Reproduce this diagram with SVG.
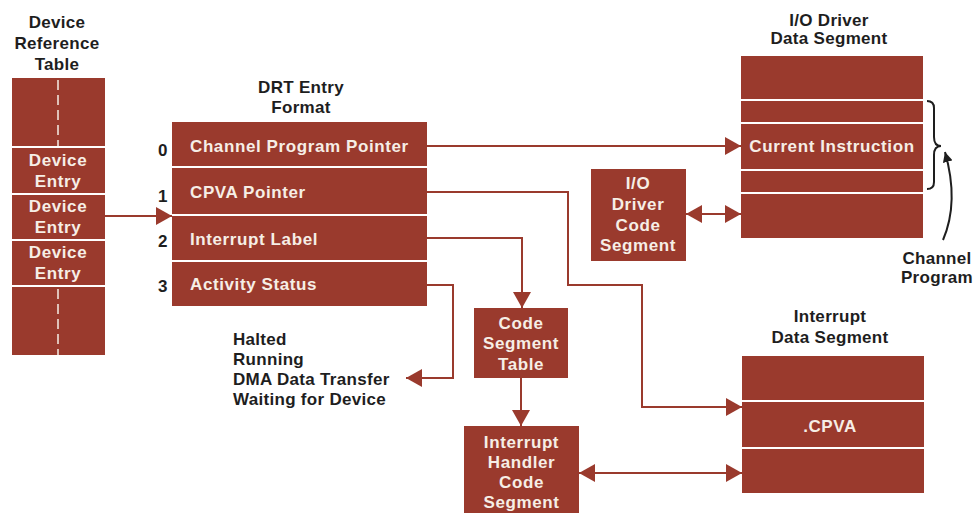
<svg xmlns="http://www.w3.org/2000/svg" width="975" height="513" viewBox="0 0 975 513">
<style>
.box{fill:#9a3a2d}
.wt{fill:#f6eee6;font-family:"Liberation Sans",Arial,sans-serif;font-weight:bold;font-size:17px;letter-spacing:0.6px}
.bt{fill:#1e1e1e;font-family:"Liberation Sans",Arial,sans-serif;font-weight:bold;font-size:17px;letter-spacing:0.3px}
.c{text-anchor:middle}
.ln{fill:none;stroke:#9a3a2d;stroke-width:2}
.dash{stroke:#f6eee6;stroke-width:1.5;stroke-dasharray:10 5}
</style>
<defs>
<marker id="ah" markerUnits="userSpaceOnUse" markerWidth="16" markerHeight="18" refX="16" refY="9" orient="auto-start-reverse">
<path d="M0,0 L16,9 L0,18 z" fill="#9a3a2d"/>
</marker>
<marker id="ahd" markerUnits="userSpaceOnUse" markerWidth="10" markerHeight="10" refX="10" refY="5" orient="auto">
<path d="M0,0 L10,5 L0,10 z" fill="#1e1e1e"/>
</marker>
</defs>
<rect width="975" height="513" fill="#ffffff"/>

<g id="device-reference-table">
<text class="bt c" x="57" y="28">Device</text>
<text class="bt c" x="57" y="49">Reference</text>
<text class="bt c" x="57" y="70">Table</text>
<rect class="box" x="12" y="78" width="93" height="68"/>
<line class="dash" x1="58" y1="80" x2="58" y2="146"/>
<rect class="box" x="12" y="148" width="93" height="45"/>
<text class="wt c" x="58" y="166">Device</text>
<text class="wt c" x="58" y="187">Entry</text>
<rect class="box" x="12" y="195" width="93" height="44"/>
<text class="wt c" x="58" y="212">Device</text>
<text class="wt c" x="58" y="233">Entry</text>
<rect class="box" x="12" y="241" width="93" height="44"/>
<text class="wt c" x="58" y="258">Device</text>
<text class="wt c" x="58" y="279">Entry</text>
<rect class="box" x="12" y="287" width="93" height="68"/>
<line class="dash" x1="58" y1="289" x2="58" y2="355"/>
</g>

<g id="drt-entry-format">
<text class="bt c" x="301" y="93">DRT Entry</text>
<text class="bt c" x="301" y="113">Format</text>
<rect class="box" x="172" y="122" width="255" height="44"/>
<rect class="box" x="172" y="168" width="255" height="46"/>
<rect class="box" x="172" y="216" width="255" height="44"/>
<rect class="box" x="172" y="262" width="255" height="44"/>
<text class="wt" x="190" y="152">Channel Program Pointer</text>
<text class="wt" x="190" y="198">CPVA Pointer</text>
<text class="wt" x="190" y="245">Interrupt Label</text>
<text class="wt" x="190" y="290">Activity Status</text>
<text class="bt c" x="163" y="156">0</text>
<text class="bt c" x="163" y="202">1</text>
<text class="bt c" x="163" y="247">2</text>
<text class="bt c" x="163" y="292">3</text>
</g>

<g id="io-driver-data-segment">
<text class="bt c" x="829" y="26">I/O Driver</text>
<text class="bt c" x="829" y="44">Data Segment</text>
<rect class="box" x="741" y="56" width="182" height="43"/>
<rect class="box" x="741" y="101" width="182" height="21"/>
<rect class="box" x="741" y="124" width="182" height="45"/>
<rect class="box" x="741" y="171" width="182" height="21"/>
<rect class="box" x="741" y="194" width="182" height="44"/>
<text class="wt c" x="832" y="152">Current Instruction</text>
</g>

<g id="channel-program">
<path d="M927,101 q7,0 7,7 v29 q0,9 7,9 q-7,0 -7,9 v27 q0,7 -7,7" fill="none" stroke="#1e1e1e" stroke-width="2"/>
<path d="M943,240 C955,212 953,180 945,152" fill="none" stroke="#1e1e1e" stroke-width="2" marker-end="url(#ahd)"/>
<text class="bt c" x="937" y="264">Channel</text>
<text class="bt c" x="937" y="283">Program</text>
</g>

<g id="io-driver-code-segment">
<rect class="box" x="591" y="169" width="95" height="92"/>
<text class="wt c" x="638" y="189">I/O</text>
<text class="wt c" x="638" y="210">Driver</text>
<text class="wt c" x="638" y="231">Code</text>
<text class="wt c" x="638" y="251">Segment</text>
</g>

<g id="code-segment-table">
<rect class="box" x="474" y="308" width="94" height="70"/>
<text class="wt c" x="521" y="329">Code</text>
<text class="wt c" x="521" y="349">Segment</text>
<text class="wt c" x="521" y="370">Table</text>
</g>

<g id="interrupt-handler-code-segment">
<rect class="box" x="464" y="426" width="115" height="90"/>
<text class="wt c" x="521.5" y="448">Interrupt</text>
<text class="wt c" x="521.5" y="468">Handler</text>
<text class="wt c" x="521.5" y="488">Code</text>
<text class="wt c" x="521.5" y="508">Segment</text>
</g>

<g id="interrupt-data-segment">
<text class="bt c" x="830" y="322">Interrupt</text>
<text class="bt c" x="830" y="343">Data Segment</text>
<rect class="box" x="742" y="356" width="182" height="44"/>
<rect class="box" x="742" y="402" width="182" height="45"/>
<rect class="box" x="742" y="449" width="182" height="44"/>
<text class="wt c" x="830" y="432">.CPVA</text>
</g>

<g id="status-list">
<text class="bt" x="233" y="345">Halted</text>
<text class="bt" x="233" y="365">Running</text>
<text class="bt" x="233" y="385">DMA Data Transfer</text>
<text class="bt" x="233" y="405">Waiting for Device</text>
</g>

<g id="connectors">
<path class="ln" d="M105,216 H172" marker-end="url(#ah)"/>
<path class="ln" d="M427,146 H741" marker-end="url(#ah)"/>
<path class="ln" d="M427,192 H568 V285 H642 V407 H742" marker-end="url(#ah)"/>
<path class="ln" d="M427,238 H522 V308" marker-end="url(#ah)"/>
<path class="ln" d="M427,285 H453 V378 H406" marker-end="url(#ah)"/>
<path class="ln" d="M521,378 V426" marker-end="url(#ah)"/>
<path class="ln" d="M686,214 H741" marker-start="url(#ah)" marker-end="url(#ah)"/>
<path class="ln" d="M579,473 H742" marker-start="url(#ah)" marker-end="url(#ah)"/>
</g>
</svg>
